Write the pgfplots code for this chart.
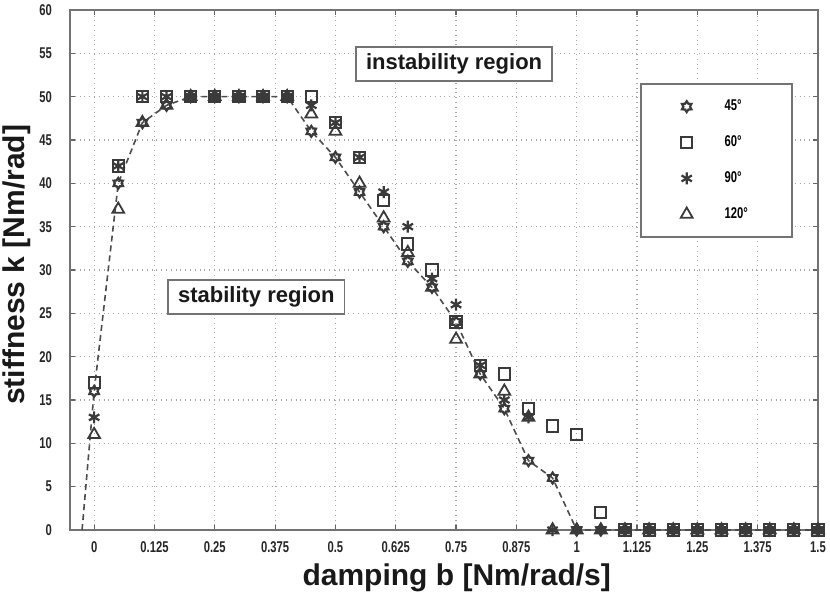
\documentclass[border=0pt]{standalone}
\usepackage{fontspec}
\setmainfont{Liberation Sans}
\newfontfamily\tickfont[FakeStretch=0.72]{Liberation Sans}
\usepackage{pgfplots}
\pgfplotsset{compat=1.18}

\pgfdeclareplotmark{hexagram}{%
  \pgfpathmoveto{\pgfpointpolar{90}{\pgfplotmarksize}}%
  \pgfpathlineto{\pgfpointpolar{120}{0.62\pgfplotmarksize}}%
  \pgfpathlineto{\pgfpointpolar{150}{\pgfplotmarksize}}%
  \pgfpathlineto{\pgfpointpolar{180}{0.62\pgfplotmarksize}}%
  \pgfpathlineto{\pgfpointpolar{210}{\pgfplotmarksize}}%
  \pgfpathlineto{\pgfpointpolar{240}{0.62\pgfplotmarksize}}%
  \pgfpathlineto{\pgfpointpolar{270}{\pgfplotmarksize}}%
  \pgfpathlineto{\pgfpointpolar{300}{0.62\pgfplotmarksize}}%
  \pgfpathlineto{\pgfpointpolar{330}{\pgfplotmarksize}}%
  \pgfpathlineto{\pgfpointpolar{0}{0.62\pgfplotmarksize}}%
  \pgfpathlineto{\pgfpointpolar{30}{\pgfplotmarksize}}%
  \pgfpathlineto{\pgfpointpolar{60}{0.62\pgfplotmarksize}}%
  \pgfpathclose\pgfusepathqstroke}

\definecolor{mk}{HTML}{3A3A3A}

\begin{document}
\begin{tikzpicture}
\useasboundingbox (0,0) rectangle (415pt,300pt);
\begin{axis}[
  at={(35pt,35pt)}, anchor=south west,
  scale only axis, width=374pt, height=260pt,
  xmin=-0.05, xmax=1.5, ymin=0, ymax=60,
  xtick={0,0.125,0.25,0.375,0.5,0.625,0.75,0.875,1,1.125,1.25,1.375,1.5},
  xticklabels={0,0.125,0.25,0.375,0.5,0.625,0.75,0.875,1,1.125,1.25,1.375,1.5},
  ytick={0,5,10,15,20,25,30,35,40,45,50,55,60},
  tick align=inside, tick pos=both, major tick length=2.5pt,
  every tick/.style={black!60, line width=0.6pt},
  grid=major, major grid style={dotted, black!35, line width=0.6pt},
  axis line style={black!55, line width=0.9pt},
  ticklabel style={font=\tickfont\bfseries\fontsize{7.8}{9}\selectfont, text=black!85},
  /pgf/number format/assume math mode=true,
  xticklabel style={yshift=-2.5pt},
  yticklabel style={xshift=-5.5pt},
  xlabel={damping b [Nm/rad/s]},
  ylabel={stiffness k [Nm/rad]},
  label style={font=\bfseries\fontsize{15}{18}\selectfont, text=black!90},
  xlabel style={at={(axis description cs:0.517,-0.091)}, anchor=center},
  ylabel style={at={(axis description cs:-0.0709,0.51)}, anchor=center},
  legend style={at={(axis cs:1.131,51.6)}, anchor=north west, draw=black!55,
    line width=0.9pt, fill=white, font=\tickfont\bfseries\fontsize{7.8}{9}\selectfont,
    inner xsep=20pt, inner ysep=6pt, row sep=7pt, column sep=14pt},
  legend cell align=left,
  legend image code/.code={\draw[#1] plot coordinates {(0pt,0pt)};},
]
% dashed guide line
\addplot[forget plot, black!70, line width=0.8pt, dash pattern=on 3pt off 2pt] coordinates {
(-0.025,0)(0,16)(0.05,40)(0.1,47)(0.15,49)(0.2,50)(0.25,50)(0.3,50)(0.35,50)(0.4,50)
(0.45,46)(0.5,43)(0.55,39)(0.6,35)(0.65,31)(0.7,28)(0.75,24)(0.8,18)(0.85,14)(0.9,8)
(0.95,6)(1,0)(1.05,0)(1.1,0)(1.15,0)(1.2,0)(1.25,0)(1.3,0)(1.35,0)(1.4,0)(1.45,0)(1.5,0)};
% 45 deg
\addplot[only marks, mark=hexagram, mark size=2.7pt, mk, line width=1.1pt] coordinates {
(0,16)(0.05,40)(0.1,47)(0.15,49)(0.2,50)(0.25,50)(0.3,50)(0.35,50)(0.4,50)
(0.45,46)(0.5,43)(0.55,39)(0.6,35)(0.65,31)(0.7,28)(0.75,24)(0.8,18)(0.85,14)(0.9,8)
(0.95,6)(1,0)(1.05,0)(1.1,0)(1.15,0)(1.2,0)(1.25,0)(1.3,0)(1.35,0)(1.4,0)(1.45,0)(1.5,0)};
\addlegendentry{45°}
% 60 deg
\addplot[only marks, mark=square, mark size=2.8pt, mk, line width=1pt] coordinates {
(0,17)(0.05,42)(0.1,50)(0.15,50)(0.2,50)(0.25,50)(0.3,50)(0.35,50)(0.4,50)
(0.45,50)(0.5,47)(0.55,43)(0.6,38)(0.65,33)(0.7,30)(0.75,24)(0.8,19)(0.85,18)(0.9,14)
(0.95,12)(1,11)(1.05,2)(1.1,0)(1.15,0)(1.2,0)(1.25,0)(1.3,0)(1.35,0)(1.4,0)(1.45,0)(1.5,0)};
\addlegendentry{60°}
% 90 deg
\addplot[only marks, mark=asterisk, mark size=3pt, mk, line width=1.1pt] coordinates {
(0,13)(0.05,42)(0.1,50)(0.15,50)(0.2,50)(0.25,50)(0.3,50)(0.35,50)(0.4,50)
(0.45,49)(0.5,47)(0.55,43)(0.6,39)(0.65,35)(0.7,29)(0.75,26)(0.8,19)(0.85,15)(0.9,13)
(0.95,0)(1,0)(1.05,0)(1.1,0)(1.15,0)(1.2,0)(1.25,0)(1.3,0)(1.35,0)(1.4,0)(1.45,0)(1.5,0)};
\addlegendentry{90°}
% 120 deg
\addplot[only marks, mark=triangle, mark size=3.4pt, mk, line width=0.9pt] coordinates {
(0,11)(0.05,37)(0.1,47)(0.15,49)(0.2,50)(0.25,50)(0.3,50)(0.35,50)(0.4,50)
(0.45,48)(0.5,46)(0.55,40)(0.6,36)(0.65,32)(0.7,28)(0.75,22)(0.8,18)(0.85,16)(0.9,13)
(0.95,0)(1,0)(1.05,0)(1.1,0)(1.15,0)(1.2,0)(1.25,0)(1.3,0)(1.35,0)(1.4,0)(1.45,0)(1.5,0)};
\addlegendentry{120°}

\node[draw=black!55, line width=0.8pt, fill=white, font=\bfseries\fontsize{11}{13}\selectfont,
  text=black!90, inner xsep=5pt, minimum height=16.5pt] at (axis cs:0.746,53.8) {instability region};
\node[draw=black!55, line width=0.8pt, fill=white, font=\bfseries\fontsize{11}{13}\selectfont,
  text=black!90, inner xsep=5pt, minimum height=16.5pt] at (axis cs:0.336,26.9) {stability region};
\end{axis}
\end{tikzpicture}
\end{document}
